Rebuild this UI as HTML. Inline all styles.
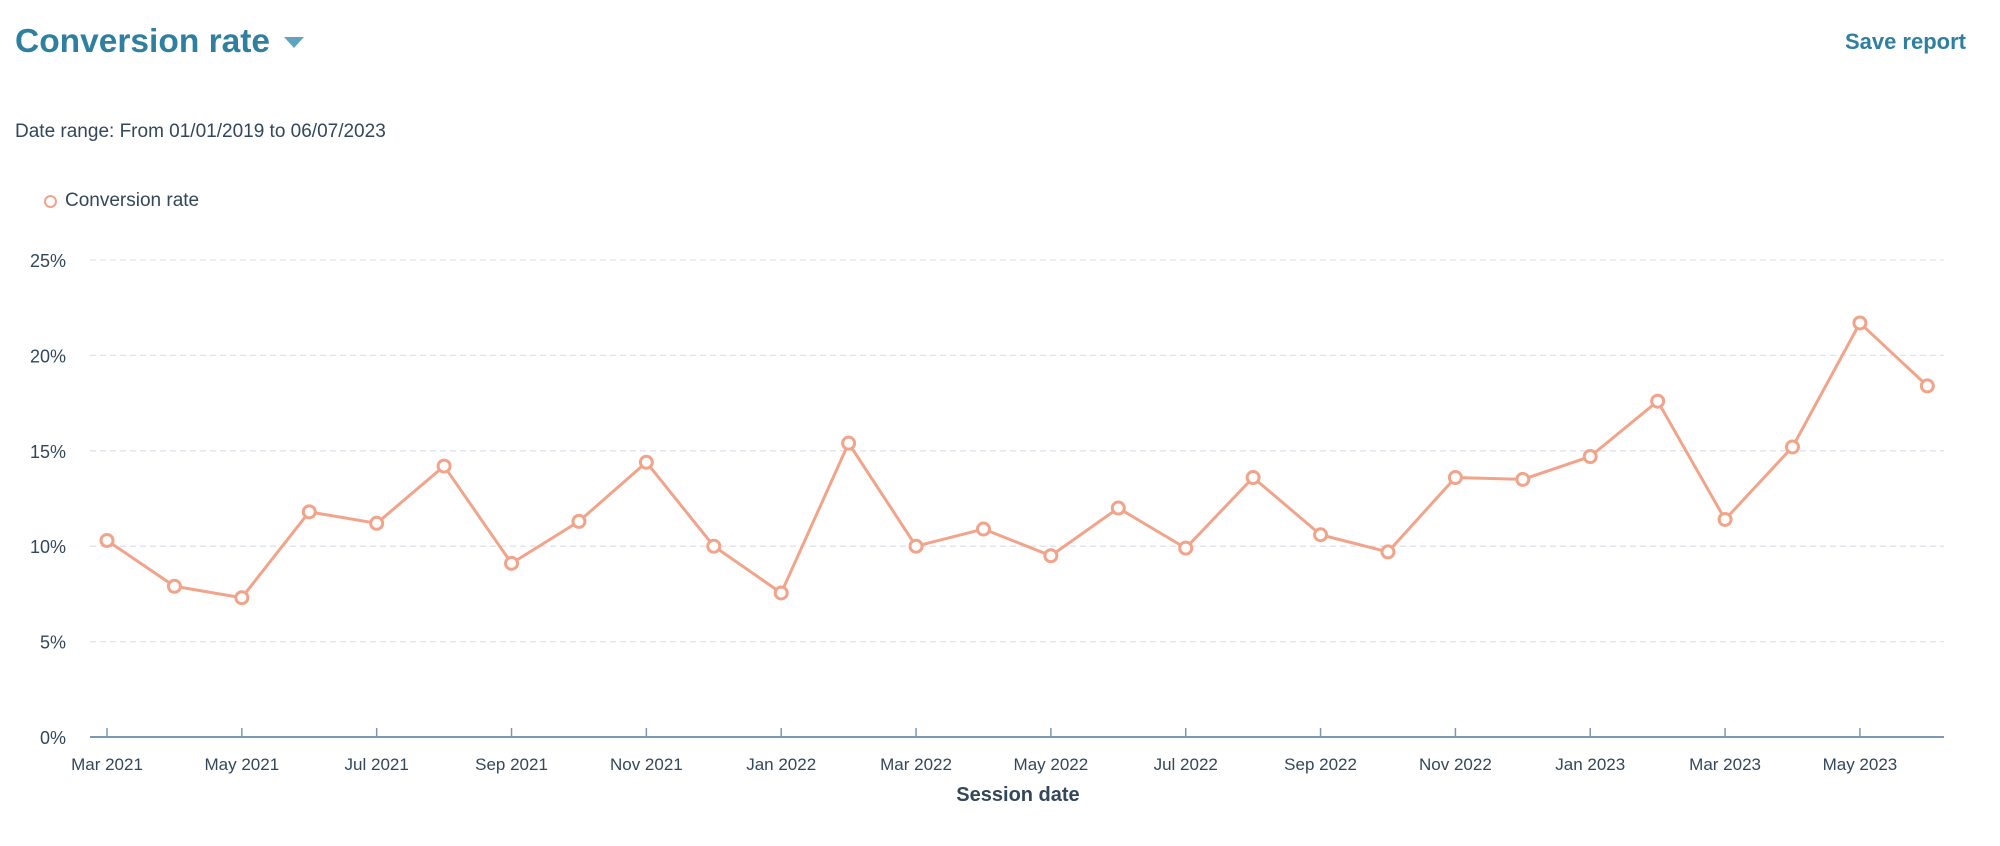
<!DOCTYPE html>
<html><head><meta charset="utf-8"><style>
body{margin:0;width:2000px;height:846px;background:#fff;font-family:"Liberation Sans",sans-serif;color:#33475b;overflow:hidden;position:relative}
.title{position:absolute;left:15px;top:23px;font-size:33.5px;font-weight:bold;color:#2f7fa0}
.caret{position:absolute;left:284px;top:37px;width:0;height:0;border-left:10px solid transparent;border-right:10px solid transparent;border-top:11px solid #5fa4bf}
.save{position:absolute;right:34px;top:29px;font-size:22px;font-weight:bold;color:#2f7fa0}
.range{position:absolute;left:15px;top:121px;font-size:19px}
.legend{position:absolute;left:44px;top:190px;font-size:19px;display:flex;align-items:center}
.legend i{display:inline-block;width:9px;height:9px;border:2.5px solid #f2a48a;border-radius:50%;margin-right:8px}
svg{position:absolute;left:0;top:0}
</style></head><body>
<div class="title">Conversion rate</div>
<div class="caret"></div>
<div class="save">Save report</div>
<div class="range">Date range: From 01/01/2019 to 06/07/2023</div>
<div class="legend"><i></i>Conversion rate</div>
<svg id="chart" width="2000" height="846"></svg>
<script>
const months=["Mar 2021","Apr 2021","May 2021","Jun 2021","Jul 2021","Aug 2021","Sep 2021","Oct 2021","Nov 2021","Dec 2021","Jan 2022","Feb 2022","Mar 2022","Apr 2022","May 2022","Jun 2022","Jul 2022","Aug 2022","Sep 2022","Oct 2022","Nov 2022","Dec 2022","Jan 2023","Feb 2023","Mar 2023","Apr 2023","May 2023","Jun 2023"];
const rates=[10.3,7.9,7.3,11.8,11.2,14.2,9.1,11.3,14.4,10.0,7.55,15.4,10.0,10.9,9.5,12.0,9.9,13.6,10.6,9.7,13.6,13.5,14.7,17.6,11.4,15.2,21.7,18.4];
const yTicks=[0,5,10,15,20,25];
const ns="http://www.w3.org/2000/svg";
const svg=document.getElementById('chart');
const X0=107,DX=67.42,Y0=737,YTOP=260,L=90,R=1944;
function x(i){return X0+i*DX;}
function y(v){return Y0-(v/25)*(Y0-YTOP);}
function mk(t,a){const e=document.createElementNS(ns,t);for(const k in a)e.setAttribute(k,a[k]);svg.appendChild(e);return e;}
yTicks.forEach(v=>{
  if(v>0){const g=mk('line',{x1:L,x2:R,y1:y(v),y2:y(v),stroke:'#dfe3eb','stroke-width':1.3,'stroke-dasharray':'6,4'});
  
  }
  const t=mk('text',{x:66,y:y(v)+7,'text-anchor':'end','font-size':18,fill:'#33475b'});t.textContent=v+'%';
  
  
});
const ax=mk('line',{x1:L,x2:R,y1:Y0,y2:Y0,stroke:'#7c98b6','stroke-width':2});


months.forEach((m,i)=>{
  if(i%2===0){
    mk('line',{x1:x(i),x2:x(i),y1:Y0-9,y2:Y0,stroke:'#7c98b6','stroke-width':1.5});
    const t=mk('text',{x:x(i),y:770,'text-anchor':'middle','font-size':17,fill:'#33475b'});t.textContent=m;
    
    
  }
});
const at=mk('text',{x:1018,y:801,'text-anchor':'middle','font-size':20,'font-weight':'bold',fill:'#33475b'});at.textContent='Session date';


const pl=mk('polyline',{points:rates.map((v,i)=>x(i)+','+y(v)).join(' '),fill:'none',stroke:'#f2a48a','stroke-width':3,'stroke-linejoin':'round'});


rates.forEach((v,i)=>{
  const c=mk('circle',{cx:x(i),cy:y(v),r:6,fill:'#fff',stroke:'#f2a48a','stroke-width':3});
  
  
});
</script>
</body></html>
